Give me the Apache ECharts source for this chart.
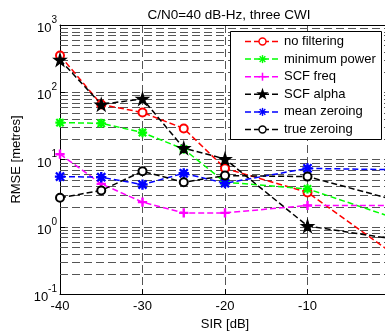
<!DOCTYPE html>
<html>
<head>
<meta charset="utf-8">
<script src="https://cdn.jsdelivr.net/npm/echarts@6/dist/echarts.min.js"></script>
<style>
html,body{margin:0;padding:0;overflow:hidden;background:#fff;width:385px;height:336px;}
#c{width:394px;height:336px;}
</style>
</head>
<body>
<div id="c"></div>
<script>
const xValues = [-40, -35, -30, -25, -20, -10, 0];
const seriesNames = ['no filtering', 'minimum power', 'SCF freq', 'SCF alpha', 'mean zeroing', 'true zeroing'];
const noFiltering  = [352, 66, 50, 29, 7.4, 3.25, 0.43];
const minimumPower = [35.4, 34.6, 25.2, 14.3, 4.6, 3.67, 1.42];
const scfFreq      = [12.0, 4.35, 2.33, 1.61, 1.61, 2.08, 2.08];
const scfAlpha     = [304, 66, 80, 14.8, 10.2, 1.03, 0.67];
const meanZeroing  = [5.58, 5.46, 4.25, 6.25, 4.45, 7.4, 7.08];
const trueZeroing  = [2.70, 3.47, 6.7, 4.6, 5.77, 5.58, 2.62];
const xTicks = [-40, -30, -20, -10];
const yDecades = [-1, 0, 1, 2, 3];

const FONT = "'Liberation Sans', Arial, Helvetica, sans-serif";
const PLUS = 'path://M4.3,0H5.7V4.3H10V5.7H5.7V10H4.3V5.7H0V4.3H4.3Z';
const AST = 'path://M4.4,0H5.6V4.4H10V5.6H5.6V10H4.4V5.6H0V4.4H4.4Z M1.4,0.6L5,4.2L8.6,0.6L9.4,1.4L5.8,5L9.4,8.6L8.6,9.4L5,5.8L1.4,9.4L0.6,8.6L4.2,5L0.6,1.4Z';
const STAR = 'path://M50,0L61,35L98,35L68,57L79,91L50,70L21,91L32,57L2,35L39,35Z';

const colors = ['#ff0000', '#00ff00', '#ff00ff', '#000000', '#0000ff', '#000000'];
const markers = ['circle', 'ast', 'plus', 'star', 'ast', 'circle'];

const minorGrid = [];
for (let k = yDecades[0]; k < yDecades[yDecades.length - 1]; k++) {
  for (let m = 2; m <= 9; m++) minorGrid.push(+(m * Math.pow(10, k)).toPrecision(3));
}

const pair = arr => xValues.map((x, i) => [x, arr[i]]);
const gridStyle = { color: '#555', width: 1, type: [8, 4] };

function mk(name, arr, color, symbol, size) {
  return {
    name: name, type: 'line', data: pair(arr), z: 3,
    symbol: symbol, symbolSize: size,
    lineStyle: { color: color, width: 1.5, type: [6, 3] },
    itemStyle: { color: color, borderColor: color, borderWidth: 1.3 }
  };
}

const LZ = 100;
function legendIcon(kind, color, cx, cy) {
  const els = [];
  if (kind === 'circle') {
    els.push({ type: 'circle', z: LZ, shape: { cx: cx, cy: cy, r: 3.5 }, style: { fill: '#fff', stroke: color, lineWidth: 1.4 } });
  } else if (kind === 'plus') {
    els.push({ type: 'rect', z: LZ, shape: { x: cx - 4, y: cy - 0.75, width: 8, height: 1.5 }, style: { fill: color, stroke: null } });
    els.push({ type: 'rect', z: LZ, shape: { x: cx - 0.75, y: cy - 4, width: 1.5, height: 8 }, style: { fill: color, stroke: null } });
  } else if (kind === 'ast') {
    els.push({ type: 'rect', z: LZ, shape: { x: cx - 4, y: cy - 0.7, width: 8, height: 1.4 }, style: { fill: color, stroke: null } });
    els.push({ type: 'rect', z: LZ, shape: { x: cx - 0.7, y: cy - 4, width: 1.4, height: 8 }, style: { fill: color, stroke: null } });
    els.push({ type: 'rect', z: LZ, rotation: Math.PI / 4, x: cx, y: cy, shape: { x: -4, y: -0.7, width: 8, height: 1.4 }, style: { fill: color, stroke: null } });
    els.push({ type: 'rect', z: LZ, rotation: -Math.PI / 4, x: cx, y: cy, shape: { x: -4, y: -0.7, width: 8, height: 1.4 }, style: { fill: color, stroke: null } });
  } else if (kind === 'star') {
    const pts = [];
    for (let i = 0; i < 10; i++) {
      const rr = i % 2 === 0 ? 6.5 : 2.6;
      const a = -Math.PI / 2 + i * Math.PI / 5;
      pts.push([cx + rr * Math.cos(a), cy + rr * Math.sin(a)]);
    }
    els.push({ type: 'polygon', z: LZ, shape: { points: pts }, style: { fill: color, stroke: null } });
  }
  return els;
}

const legendEls = [{
  type: 'rect', z: LZ - 1, shape: { x: 230.5, y: 31.5, width: 151, height: 108 },
  style: { fill: '#fff', stroke: '#000', lineWidth: 1 }
}];
seriesNames.forEach((n, i) => {
  const cy = 41.5 + i * 17.6;
  legendEls.push({ type: 'line', z: LZ, shape: { x1: 245, y1: cy, x2: 280, y2: cy },
    style: { stroke: colors[i], lineWidth: 1.5, lineDash: [6, 3] } });
  legendIcon(markers[i], colors[i], 262.5, cy).forEach(e => legendEls.push(e));
});
seriesNames.forEach((n, i) => {
  const cy = 41.5 + i * 17.6;
  legendEls.push({ type: 'text', z: LZ + 1, x: 284, y: cy,
    style: { text: n, fill: '#000', stroke: 'none', lineWidth: 0, lineDash: null,
      font: "13px 'Liberation Sans', Arial, sans-serif", verticalAlign: 'middle' } });
});

const chart = echarts.init(document.getElementById('c'), null, { renderer: 'canvas' });
chart.setOption({
  animation: false,
  textStyle: { fontFamily: FONT },
  title: {
    text: 'C/N0=40 dB-Hz, three CWI', left: 224, top: 3, textAlign: 'center',
    textStyle: { fontFamily: FONT, fontSize: 13.5, fontWeight: 'normal', color: '#000' }
  },
  grid: { left: 60, right: 4, top: 25, bottom: 40 },
  graphic: legendEls.map(e => Object.assign({ silent: true }, e)),
  xAxis: [{
    type: 'value', min: -40, max: 0, interval: 10,
    name: 'SIR [dB]', nameLocation: 'middle', nameGap: 20,
    nameTextStyle: { fontFamily: FONT, fontSize: 13, color: '#000' },
    axisLine: { show: true, onZero: false, lineStyle: { color: '#000', width: 1 } },
    axisTick: { show: true, inside: true, length: 5, lineStyle: { color: '#000' } },
    axisLabel: { fontFamily: FONT, fontSize: 13, color: '#000', margin: 6,
      formatter: v => xTicks.includes(v) ? String(v) : '' },
    splitLine: { show: true, lineStyle: gridStyle }
  }, {
    type: 'value', min: -40, max: 0, interval: 10, position: 'top',
    axisLine: { show: true, onZero: false, lineStyle: { color: '#000', width: 1 } },
    axisTick: { show: false }, axisLabel: { show: false }, splitLine: { show: false }
  }],
  yAxis: {
    type: 'log', logBase: 10, min: 0.1, max: 1000,
    name: 'RMSE [metres]', nameLocation: 'middle', nameGap: 31, nameRotate: 90,
    nameTextStyle: { fontFamily: FONT, fontSize: 13, color: '#000' },
    axisLine: { show: true, onZero: false, lineStyle: { color: '#000', width: 1 } },
    axisTick: { show: true, inside: true, length: 5, lineStyle: { color: '#000' } },
    axisLabel: {
      margin: 3, color: '#000',
      formatter: v => '{b|10}{s|' + Math.round(Math.log10(v)) + '}',
      rich: {
        b: { fontFamily: FONT, fontSize: 13, color: '#000', verticalAlign: 'bottom', lineHeight: 20 },
        s: { fontFamily: FONT, fontSize: 10, color: '#000', verticalAlign: 'top', lineHeight: 20 }
      }
    },
    splitLine: { show: true, lineStyle: gridStyle }
  },
  series: [
    {
      name: '_grid', type: 'custom', z: 1, silent: true, clip: true,
      data: minorGrid.map(v => [xValues[0], v]),
      renderItem: function (params, api) {
        const v = api.value(1);
        const p1 = api.coord([-40, v]);
        const p2 = api.coord([0, v]);
        return { type: 'line', shape: { x1: p1[0], y1: Math.round(p1[1]) + 0.5, x2: p2[0], y2: Math.round(p2[1]) + 0.5 },
          style: { stroke: '#555', lineWidth: 1, lineDash: [8, 4] } };
      }
    },
    mk(seriesNames[0], noFiltering, colors[0], 'emptyCircle', 8),
    mk(seriesNames[1], minimumPower, colors[1], AST, 8),
    mk(seriesNames[2], scfFreq, colors[2], PLUS, 8),
    mk(seriesNames[3], scfAlpha, colors[3], STAR, 12),
    mk(seriesNames[4], meanZeroing, colors[4], AST, 9),
    mk(seriesNames[5], trueZeroing, colors[5], 'emptyCircle', 8)
  ]
});
</script>
</body>
</html>
